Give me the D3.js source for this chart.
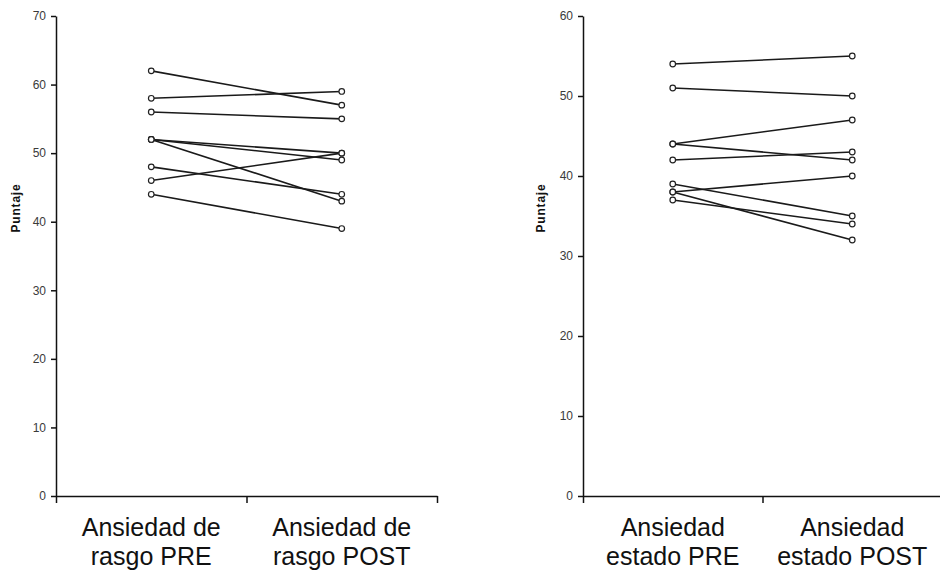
<!DOCTYPE html>
<html>
<head>
<meta charset="utf-8">
<script src="https://cdn.jsdelivr.net/npm/d3@7"></script>
<style>
  body { margin: 0; background: #fff; }
  svg { display: block; font-family: "Liberation Sans", Arial, sans-serif; }
  .axis path, .axis line { stroke: #111; stroke-width: 1.5px; }
  .axis text { fill: #3a3a3a; font-size: 12px; }
</style>
</head>
<body>
<div id="chart"></div>
<script>
// Data (one entry per subject)
const rasgoLabels = [["Ansiedad de", "rasgo PRE"], ["Ansiedad de", "rasgo POST"]];
const rasgoPre = [62, 58, 56, 52, 52, 52, 48, 46, 44];
const rasgoPost = [57, 59, 55, 50, 49, 43, 44, 50, 39];
const rasgoTicks = [0, 10, 20, 30, 40, 50, 60, 70];

const estadoLabels = [["Ansiedad", "estado PRE"], ["Ansiedad", "estado POST"]];
const estadoPre = [54, 51, 44, 44, 42, 39, 38, 38, 37];
const estadoPost = [55, 50, 47, 42, 43, 35, 40, 32, 34];
const estadoTicks = [0, 10, 20, 30, 40, 50, 60];

const yLabel = "Puntaje";

const width = 940;
const height = 573;

const svg = d3.select('#chart')
    .append('svg')
    .attr('width', width)
    .attr('height', height);

function drawPanel(opts) {
    const { labels, pre, post, ticks, left, right, top, bottom, titleX } = opts;
    const cats = labels.map(d => d.join(' '));

    const x = d3.scaleBand()
        .domain(cats)
        .range([left, right])
        .padding(0);

    // edge scale only for the tick marks between the categories
    const xEdge = d3.scaleLinear()
        .domain([0, cats.length])
        .range([left, right]);

    const y = d3.scaleLinear()
        .domain([0, d3.max(ticks)])
        .range([bottom, top]);

    const g = svg.append('g');

    // y axis
    g.append('g')
        .attr('class', 'axis')
        .attr('transform', `translate(${left},0)`)
        .call(d3.axisLeft(y).tickValues(ticks).tickSize(5).tickSizeOuter(0).tickPadding(5));

    // x axis, ticks on the category edges
    g.append('g')
        .attr('class', 'axis')
        .attr('transform', `translate(0,${bottom})`)
        .call(d3.axisBottom(xEdge).tickValues(d3.range(cats.length + 1)).tickFormat('').tickSize(7).tickSizeOuter(0));

    // category labels, two lines each
    const cx = c => x(c) + x.bandwidth() / 2;
    const lab = g.append('g')
        .selectAll('text')
        .data(labels)
        .join('text')
        .attr('x', (d, i) => cx(cats[i]))
        .attr('y', bottom + 40)
        .attr('text-anchor', 'middle')
        .style('font-size', '25px')
        .style('fill', '#111');
    lab.selectAll('tspan')
        .data(d => d)
        .join('tspan')
        .attr('x', function () { return this.parentNode.getAttribute('x'); })
        .attr('dy', (d, i) => i === 0 ? 0 : 28.5)
        .text(d => d);

    // y title
    g.append('text')
        .attr('transform', `translate(${titleX},${y(d3.max(ticks)) + (bottom - top) * 0.4}) rotate(-90)`)
        .attr('text-anchor', 'middle')
        .style('font-size', '12px')
        .style('font-weight', 'bold')
        .style('letter-spacing', '0.8px')
        .style('fill', '#111')
        .text(yLabel);

    // subjects
    const pairs = pre.map((v, i) => [v, post[i]]);

    g.append('g')
        .selectAll('line')
        .data(pairs)
        .join('line')
        .attr('x1', cx(cats[0]))
        .attr('x2', cx(cats[1]))
        .attr('y1', d => y(d[0]))
        .attr('y2', d => y(d[1]))
        .attr('stroke', '#1a1a1a')
        .attr('stroke-width', 1.6);

    const pts = pairs.flatMap(d => [[cats[0], d[0]], [cats[1], d[1]]]);
    g.append('g')
        .selectAll('circle')
        .data(pts)
        .join('circle')
        .attr('cx', d => cx(d[0]))
        .attr('cy', d => y(d[1]))
        .attr('r', 2.8)
        .attr('fill', '#fff')
        .attr('stroke', '#222')
        .attr('stroke-width', 1.2);
}

drawPanel({
    labels: rasgoLabels, pre: rasgoPre, post: rasgoPost, ticks: rasgoTicks,
    left: 56, right: 437, top: 16, bottom: 496, titleX: 20
});

drawPanel({
    labels: estadoLabels, pre: estadoPre, post: estadoPost, ticks: estadoTicks,
    left: 583, right: 942, top: 16, bottom: 496, titleX: 545
});
</script>
</body>
</html>
